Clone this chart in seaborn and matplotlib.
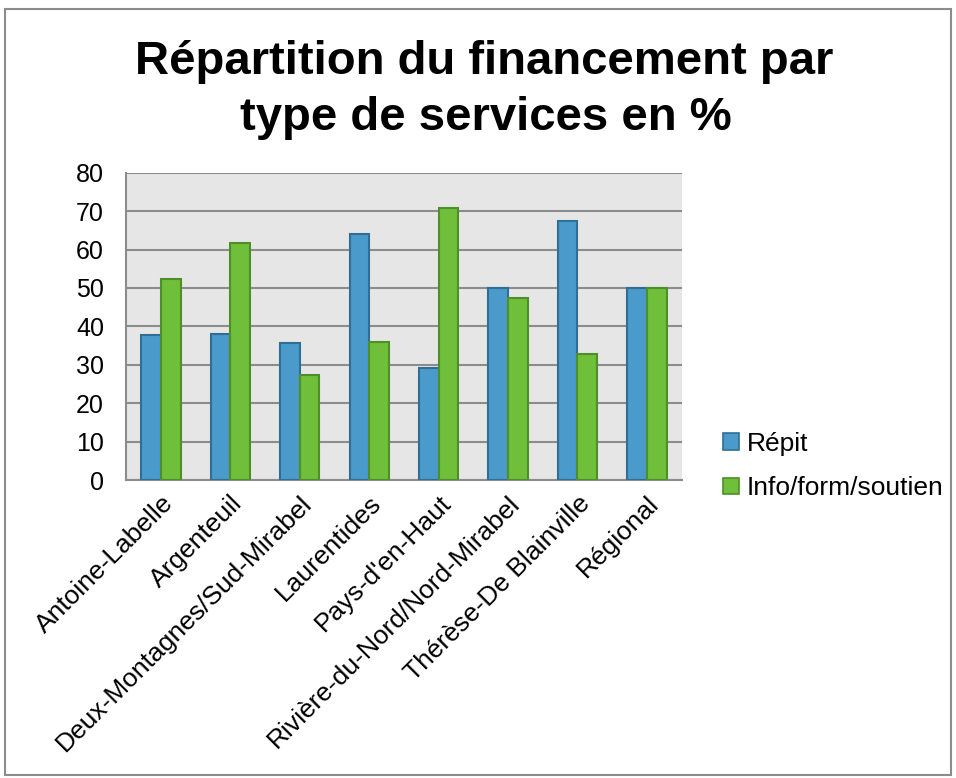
import matplotlib
matplotlib.use("Agg")
import matplotlib.pyplot as plt
import matplotlib.transforms as mtransforms
import seaborn as sns
import pandas as pd
from matplotlib.patches import Rectangle, Patch

categories = ["Antoine-Labelle", "Argenteuil", "Deux-Montagnes/Sud-Mirabel",
              "Laurentides", "Pays-d'en-Haut", "Rivière-du-Nord/Nord-Mirabel",
              "Thérèse-De Blainville", "Régional"]
repit = [37.7, 38.0, 35.8, 64.1, 29.1, 50.1, 67.4, 50.0]
info = [52.4, 61.7, 27.3, 35.9, 70.8, 47.3, 32.7, 50.0]
series_names = ["Répit", "Info/form/soutien"]
yticks = [0, 10, 20, 30, 40, 50, 60, 70, 80]
title_lines = ["Répartition du financement par", "type de services en %"]

df = pd.DataFrame({
    "cat": categories * 2,
    "val": repit + info,
    "serie": [series_names[0]] * len(categories) + [series_names[1]] * len(categories),
})

sns.set_theme(style="white")
plt.rcParams["font.family"] = ["Liberation Sans", "DejaVu Sans"]
plt.rcParams["text.color"] = "black"
plt.rcParams["xtick.color"] = "black"
plt.rcParams["ytick.color"] = "black"

fig = plt.figure(figsize=(9.56, 7.78), dpi=100)
ax = fig.add_axes([0.132, 0.383, 0.581, 0.395])

fills = ["#4A9BCB", "#6FBF3A"]
edges = ["#2F6F95", "#4E8F27"]
sns.barplot(data=df, x="cat", y="val", hue="serie", hue_order=series_names,
            palette=fills, saturation=1, width=0.566, ax=ax, legend=False, zorder=3)
for cont, ec in zip(ax.containers, edges):
    for p in cont:
        p.set_edgecolor(ec)
        p.set_linewidth(1.5)

ax.set_facecolor("#E6E6E6")
ax.set_ylim(0, 80)
ax.set_xlim(-0.5, len(categories) - 0.5)
ax.set_yticks(yticks)
ax.set_yticklabels([str(v) for v in yticks], fontsize=18)
ax.yaxis.grid(True, color="#8C8C8C", linewidth=1.5, zorder=0)
ax.set_axisbelow(True)
ax.set_xlabel("")
ax.set_ylabel("")
ax.set_xticks(range(len(categories)))
ax.set_xticklabels(categories, rotation=45, ha="right", rotation_mode="anchor", fontsize=19)
offset = mtransforms.ScaledTranslation(-9 / 100, -12 / 100, fig.dpi_scale_trans)
for lab in ax.get_xticklabels():
    lab.set_transform(lab.get_transform() + offset)
ax.tick_params(axis="x", length=0, pad=8)
ax.tick_params(axis="y", length=0, pad=16)
for s in ["top", "right"]:
    ax.spines[s].set_visible(False)
for s in ["left", "bottom"]:
    ax.spines[s].set_color("#8C8C8C")
    ax.spines[s].set_linewidth(1.5)

handles = [Patch(facecolor=f, edgecolor=e, linewidth=1.2) for f, e in zip(fills, edges)]
fig.legend(handles, series_names, loc="center left", bbox_to_anchor=(0.756, 0.401),
           frameon=False, fontsize=19, handlelength=0.6, handleheight=0.6,
           handletextpad=0.3, labelspacing=0.78, borderpad=0, borderaxespad=0)

fig.text(0.506, 1 - 74 / 778, title_lines[0], ha="center", va="baseline",
         fontsize=34, fontweight="bold")
fig.text(0.508, 1 - 130 / 778, title_lines[1], ha="center", va="baseline",
         fontsize=34, fontweight="bold")

fig.patches.append(Rectangle((0.005, 0.004), 0.99, 0.985, transform=fig.transFigure,
                             fill=False, edgecolor="#8C8C8C", linewidth=1.5))

fig.savefig("out.png", dpi=100, facecolor="white")
